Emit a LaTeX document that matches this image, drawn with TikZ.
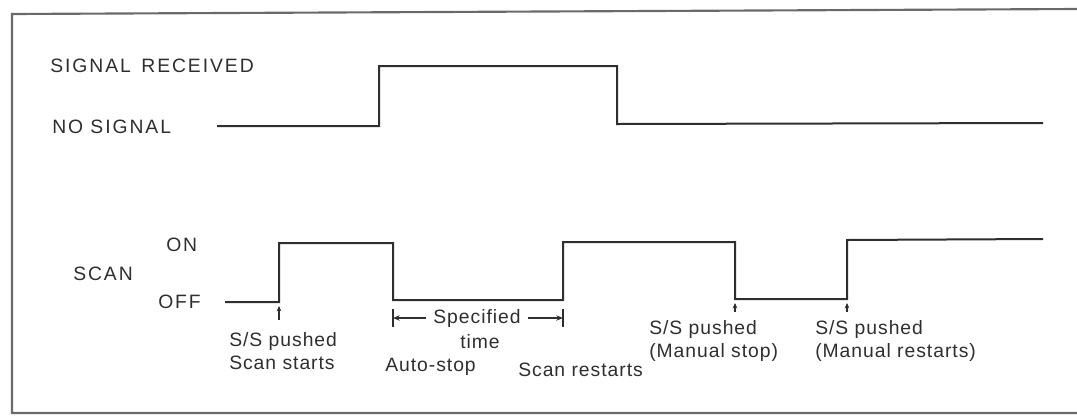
\documentclass[tikz,border=0pt]{standalone}
\usepackage{fontspec}
\setmainfont{Liberation Sans}[LetterSpace=5]
\newfontfamily\capsfont{Liberation Sans}[LetterSpace=10]
\usetikzlibrary{arrows.meta}
\definecolor{ink}{HTML}{2E2E2E}
\definecolor{frame}{HTML}{6A6A6A}
\tikzset{
  wave/.style={draw=ink, line width=1.5pt, line join=miter},
  frameline/.style={draw=frame, line width=1.6pt},
  lbl/.style={text=ink, inner sep=0pt, anchor=west, font=\fontsize{14.5}{17}\selectfont},
  caplbl/.style={lbl, font=\fontsize{14.5}{17}\capsfont},
  mlbl/.style={lbl, align=left},
  marker/.style={draw=ink, line width=1pt, -{Stealth[length=4pt,width=3.5pt]}},
  span/.style={draw=ink, line width=1.2pt, -{Stealth[length=5pt,width=4pt]}},
  tick/.style={draw=ink, line width=1.5pt}
}
\begin{document}
\begin{tikzpicture}[x=0.75pt,y=-0.75pt]
\useasboundingbox (0,0) rectangle (1077,415);
% frame
\coordinate (ftl) at (12,14);
\coordinate (ftr) at (1077,9);
\coordinate (fbl) at (12,413);
\coordinate (fbr) at (1077,413);
\draw[frameline] (ftr) -- (ftl) -- (fbl) -- (fbr);

% signal waveform
\coordinate (s0) at (217,126);
\coordinate (s1) at (379,126);
\coordinate (s2) at (379,66);
\coordinate (s3) at (617,66);
\coordinate (s4) at (617,124);
\coordinate (s5) at (1043,123);
\draw[wave] (s0) -- (s1) -- (s2) -- (s3) -- (s4) -- (s5);

% scan waveform
\coordinate (c0) at (225,302);
\coordinate (c1) at (279,302);
\coordinate (c2) at (279,243);
\coordinate (c3) at (393,243);
\coordinate (c4) at (393,300);
\coordinate (c5) at (563,300);
\coordinate (c6) at (563,242);
\coordinate (c7) at (735,242);
\coordinate (c8) at (735,299);
\coordinate (c9) at (847,299);
\coordinate (c10) at (847,240);
\coordinate (c11) at (1043,239);
\draw[wave] (c0) -- (c1) -- (c2) -- (c3) -- (c4) -- (c5) -- (c6) -- (c7) -- (c8) -- (c9) -- (c10) -- (c11);

% level labels
\node[caplbl] (sigrec) at (50,66) {SIGNAL\, RECEIVED};
\node[caplbl] (nosig) at (52,127) {NO SIGNAL};
\node[caplbl] (on) at (166,245) {ON};
\node[caplbl] (scan) at (73,274) {SCAN};
\node[caplbl] (off) at (158,302) {OFF};

% markers
\coordinate (m1a) at (279,320);
\coordinate (m1b) at (279,306);
\draw[marker] (m1a) -- (m1b);
\coordinate (m2a) at (735,312);
\coordinate (m2b) at (735,303);
\draw[marker] (m2a) -- (m2b);
\coordinate (m3a) at (847,312);
\coordinate (m3b) at (847,303);
\draw[marker] (m3a) -- (m3b);

% specified time bracket
\coordinate (bl1) at (393,309);
\coordinate (bl2) at (393,327);
\coordinate (br1) at (563,309);
\coordinate (br2) at (563,327);
\draw[tick] (bl1) -- (bl2);
\draw[tick] (br1) -- (br2);
\node[lbl, anchor=center] (spec) at (477,318) {Specified};
\node[lbl, anchor=center] (time) at (480,342) {time};
\coordinate (bl) at (393,318);
\coordinate (br) at (563,318);
\draw[span] (spec.west) ++(-7,0) -- (bl);
\draw[span] (spec.east) ++(7,0) -- (br);

% event labels
\node[mlbl] (ev1) at (229,351) {S/S pushed\\Scan starts};
\node[lbl] (ev2) at (385,367) {Auto-stop};
\node[lbl] (ev3) at (518,370) {Scan restarts};
\node[mlbl] (ev4) at (649,341) {S/S pushed\\(Manual stop)};
\node[mlbl] (ev5) at (815,341) {S/S pushed\\(Manual restarts)};
\end{tikzpicture}
\end{document}
